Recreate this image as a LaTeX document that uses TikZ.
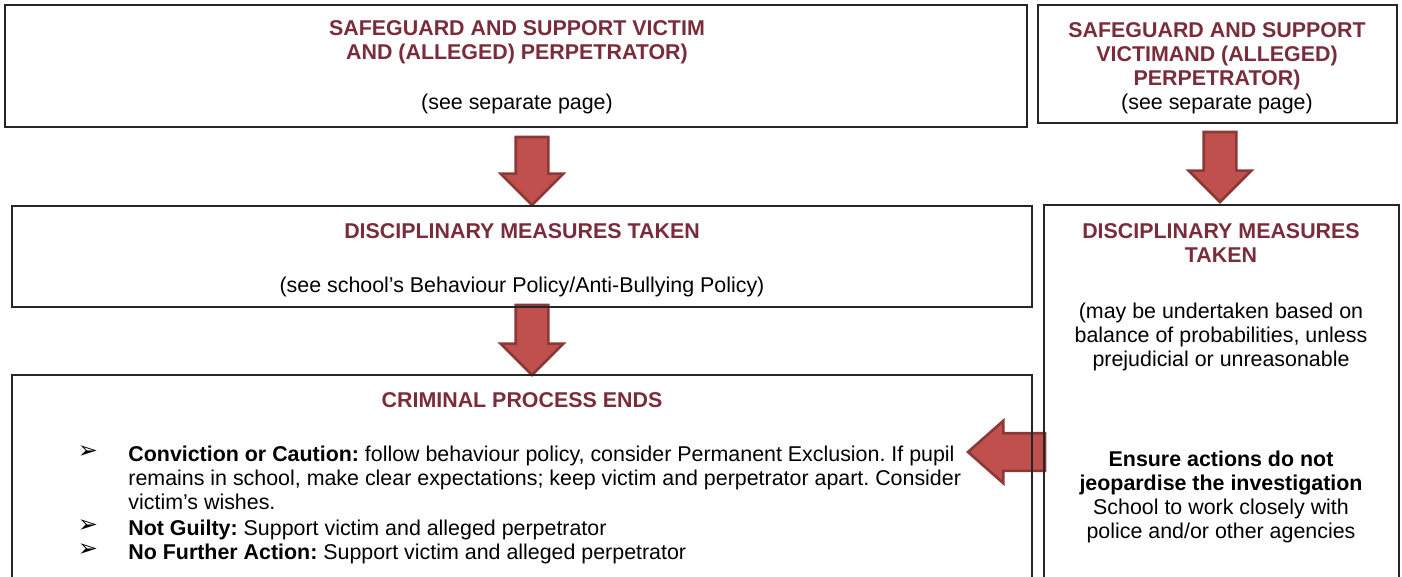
\documentclass[tikz,border=0pt]{standalone}
\usepackage{fontspec}
\setmainfont{Liberation Sans}
\newfontfamily\symfont{DejaVu Sans}
\usetikzlibrary{shapes.arrows}
\definecolor{titlered}{RGB}{122,44,58}
\definecolor{arrowfill}{RGB}{192,80,77}
\definecolor{arrowrim}{RGB}{140,56,54}
\newcommand\boxfont{\fontsize{10.7}{12}\selectfont\frenchspacing}

\begin{document}
\begin{tikzpicture}[x=0.5pt, y=-0.5pt,
  box/.style={draw=black!85, line width=0.6pt, inner sep=0pt, outer sep=0pt, anchor=north west},
  title/.style={font=\boxfont\bfseries, text=titlered, align=center, inner sep=0pt},
  body/.style={font=\boxfont, align=center, inner sep=0pt},
  item/.style={font=\boxfont, align=left, inner sep=0pt, anchor=base west},
  bullet/.style={font=\fontsize{12}{12}\selectfont\symfont, inner sep=0pt, anchor=base},
  blockarrow/.style={single arrow, draw=arrowrim, fill=arrowfill, line width=1.3pt,
    inner xsep=0pt, inner ysep=7.5pt, single arrow head extend=7.5pt,
    single arrow head indent=0pt, single arrow tip angle=90, outer sep=0pt, anchor=tail}]
\useasboundingbox (0,0) rectangle (1402,577);
\clip (0,0) rectangle (1402,577);

\node[blockarrow, rotate=-90, minimum height=34pt] (arrA) at (532,137) {};
\node[blockarrow, rotate=-90, minimum height=35pt] (arrB) at (532,305) {};
\node[blockarrow, rotate=-90, minimum height=35pt] (arrC) at (1220,132) {};
\node[blockarrow, rotate=180, minimum height=38.5pt, inner ysep=8.75pt,
  single arrow head extend=6.25pt, single arrow tip angle=83] (arrD) at (1045,452) {};

\node[box, minimum width=511pt, minimum height=61pt] (safeL) at (5,5) {};
\node[box, minimum width=179.5pt, minimum height=59pt] (safeR) at (1038,5) {};
\node[box, minimum width=510pt, minimum height=50.5pt] (discL) at (12,206) {};
\node[box, minimum width=177.5pt, minimum height=190pt] (discR) at (1044,205) {};
\node[box, minimum width=510pt, minimum height=110pt] (crime) at (12,375) {};

\node[title] (safeLt) at (517,42) {SAFEGUARD AND SUPPORT VICTIM\\AND (ALLEGED) PERPETRATOR)};
\node[body] (safeLs) at (517,104) {(see separate page)};
\node[title] (safeRt) at (1217,56) {SAFEGUARD AND SUPPORT\\VICTIMAND (ALLEGED)\\PERPETRATOR)};
\node[body] (safeRs) at (1217,104) {(see separate page)};

\node[title] (discLt) at (522,231) {DISCIPLINARY MEASURES TAKEN};
\node[body] (discLs) at (522,287) {(see school’s Behaviour Policy/Anti-Bullying Policy)};

\node[title] (discRt) at (1221,243) {DISCIPLINARY MEASURES\\TAKEN};
\node[body] (discRs) at (1221,337) {(may be undertaken based on\\balance of probabilities, unless\\prejudicial or unreasonable};
\node[body] (discRn) at (1221,497) {\textbf{Ensure actions do not}\\\textbf{jeopardise the investigation}\\School to work closely with\\police and/or other agencies};

\node[title] (crimet) at (522,400) {CRIMINAL PROCESS ENDS};
\node[bullet] (b1) at (88,458) {➢};
\node[bullet] (b2) at (88,532) {➢};
\node[bullet] (b3) at (88,556) {➢};
\node[item] (i1) at (128,509) {\textbf{Conviction or Caution:} follow behaviour policy, consider Permanent Exclusion. If pupil\\remains in school, make clear expectations; keep victim and perpetrator apart. Consider\\victim’s wishes.};
\node[item] (i2) at (128,535) {\textbf{Not Guilty:} Support victim and alleged perpetrator};
\node[item] (i3) at (128,559) {\textbf{No Further Action:} Support victim and alleged perpetrator};
\end{tikzpicture}
\end{document}
